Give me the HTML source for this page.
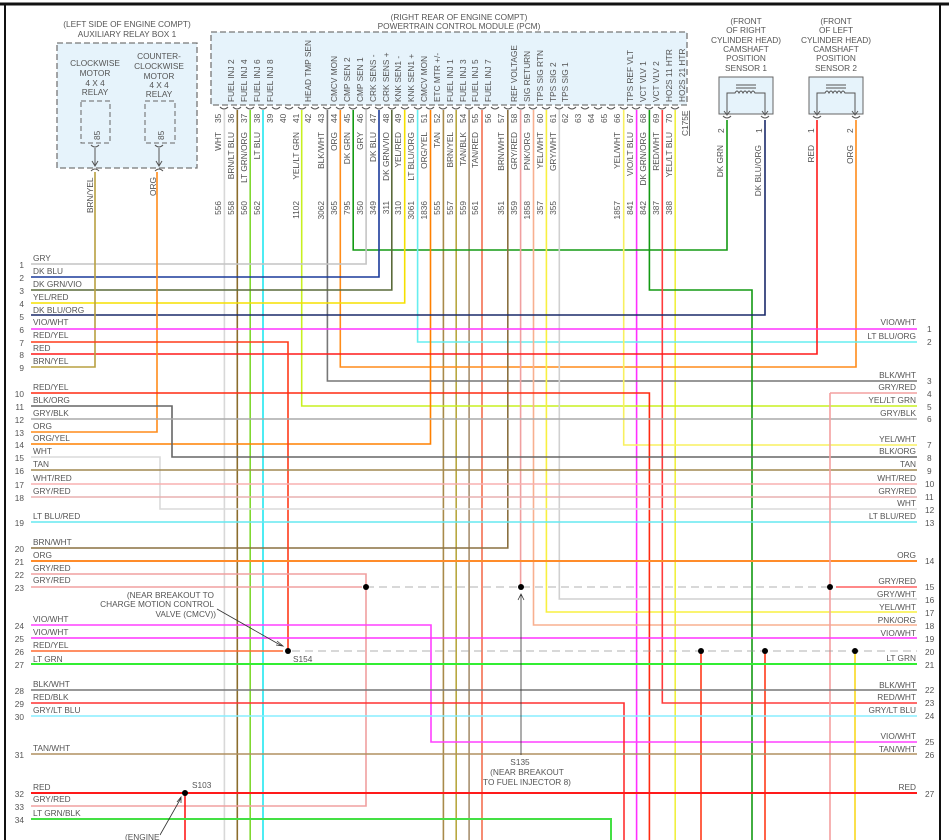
<!DOCTYPE html>
<html><head><meta charset="utf-8"><style>
html,body{margin:0;padding:0;background:#fff}
svg{display:block}
text{font-family:"Liberation Sans",sans-serif;font-size:8.3px;fill:#555}
.c{text-anchor:middle}.e{text-anchor:end}
</style></head><body>
<svg width="949" height="840" viewBox="0 0 949 840" xmlns="http://www.w3.org/2000/svg">
<rect x="0" y="0" width="949" height="840" fill="#fff"/>
<line x1="0" y1="4" x2="949" y2="4" stroke="#111" stroke-width="3"/>
<line x1="5" y1="4" x2="5" y2="840" stroke="#111" stroke-width="2"/>
<line x1="940" y1="4" x2="940" y2="840" stroke="#111" stroke-width="2"/>

<!-- Relay box -->
<text class="c" x="127" y="27">(LEFT SIDE OF ENGINE COMPT)</text>
<text class="c" x="127" y="37">AUXILIARY RELAY BOX 1</text>
<rect x="57" y="43" width="140" height="125" fill="#e6f3fb" stroke="#777" stroke-width="1.3" stroke-dasharray="6,3"/>
<text class="c" x="95" y="66">CLOCKWISE</text><text class="c" x="95" y="76">MOTOR</text><text class="c" x="95" y="86">4 X 4</text><text class="c" x="95" y="95">RELAY</text>
<text class="c" x="159" y="59">COUNTER-</text><text class="c" x="159" y="69">CLOCKWISE</text><text class="c" x="159" y="79">MOTOR</text><text class="c" x="159" y="88">4 X 4</text><text class="c" x="159" y="97">RELAY</text>
<rect x="81" y="101" width="29" height="42" fill="none" stroke="#666" stroke-dasharray="5,3"/>
<rect x="145" y="101" width="30" height="42" fill="none" stroke="#666" stroke-dasharray="5,3"/>
<text transform="translate(100,140) rotate(-90)">85</text>
<text transform="translate(164,140) rotate(-90)">85</text>
<path d="M95 148V165M92 161l3 5 3-5M159 148V165M156 161l3 5 3-5" stroke="#555" fill="none"/>
<path d="M91 145q4 4 8 0M155 145q4 4 8 0M91 171q4-4 8 0M155 171q4-4 8 0" stroke="#555" fill="none"/>
<text transform="translate(93,213) rotate(-90)">BRN/YEL</text>
<text transform="translate(156,196) rotate(-90)">ORG</text>

<!-- PCM -->
<text class="c" x="459" y="20">(RIGHT REAR OF ENGINE COMPT)</text>
<text class="c" x="459" y="29">POWERTRAIN CONTROL MODULE (PCM)</text>
<rect x="211" y="32" width="476" height="73" fill="#e6f3fb" stroke="#777" stroke-width="1.3" stroke-dasharray="6,3"/>
<g>
<text transform="translate(234,102) rotate(-90)">FUEL INJ 2</text>
<text transform="translate(247,102) rotate(-90)">FUEL INJ 4</text>
<text transform="translate(260,102) rotate(-90)">FUEL INJ 6</text>
<text transform="translate(273,102) rotate(-90)">FUEL INJ 8</text>
<text transform="translate(311,102) rotate(-90)">HEAD TMP SEN</text>
<text transform="translate(337,102) rotate(-90)">CMCV MON</text>
<text transform="translate(350,102) rotate(-90)">CMP SEN 2</text>
<text transform="translate(363,102) rotate(-90)">CMP SEN 1</text>
<text transform="translate(376,102) rotate(-90)">CRK SENS -</text>
<text transform="translate(389,102) rotate(-90)">CRK SENS +</text>
<text transform="translate(401,102) rotate(-90)">KNK SEN1 -</text>
<text transform="translate(414,102) rotate(-90)">KNK SEN1 +</text>
<text transform="translate(427,102) rotate(-90)">CMCV MON</text>
<text transform="translate(440,102) rotate(-90)">ETC MTR +/-</text>
<text transform="translate(453,102) rotate(-90)">FUEL INJ 1</text>
<text transform="translate(466,102) rotate(-90)">FUEL INJ 3</text>
<text transform="translate(478,102) rotate(-90)">FUEL INJ 5</text>
<text transform="translate(491,102) rotate(-90)">FUEL INJ 7</text>
<text transform="translate(517,102) rotate(-90)">REF VOLTAGE</text>
<text transform="translate(530,102) rotate(-90)">SIG RETURN</text>
<text transform="translate(543,102) rotate(-90)">TPS SIG RTN</text>
<text transform="translate(556,102) rotate(-90)">TPS SIG 2</text>
<text transform="translate(568,102) rotate(-90)">TPS SIG 1</text>
<text transform="translate(633,102) rotate(-90)">TPS REF VLT</text>
<text transform="translate(646,102) rotate(-90)">VCT VLV 1</text>
<text transform="translate(659,102) rotate(-90)">VCT VLV 2</text>
<text transform="translate(672,102) rotate(-90)">HO2S 11 HTR</text>
<text transform="translate(685,102) rotate(-90)">HO2S 21 HTR</text>
</g>
<!-- pin numbers -->
<g>
<text transform="translate(221,123) rotate(-90)">35</text><text transform="translate(234,123) rotate(-90)">36</text><text transform="translate(247,123) rotate(-90)">37</text><text transform="translate(260,123) rotate(-90)">38</text><text transform="translate(273,123) rotate(-90)">39</text><text transform="translate(286,123) rotate(-90)">40</text><text transform="translate(299,123) rotate(-90)">41</text><text transform="translate(311,123) rotate(-90)">42</text><text transform="translate(324,123) rotate(-90)">43</text><text transform="translate(337,123) rotate(-90)">44</text><text transform="translate(350,123) rotate(-90)">45</text><text transform="translate(363,123) rotate(-90)">46</text><text transform="translate(376,123) rotate(-90)">47</text><text transform="translate(389,123) rotate(-90)">48</text><text transform="translate(401,123) rotate(-90)">49</text><text transform="translate(414,123) rotate(-90)">50</text><text transform="translate(427,123) rotate(-90)">51</text><text transform="translate(440,123) rotate(-90)">52</text><text transform="translate(453,123) rotate(-90)">53</text><text transform="translate(466,123) rotate(-90)">54</text><text transform="translate(478,123) rotate(-90)">55</text><text transform="translate(491,123) rotate(-90)">56</text><text transform="translate(504,123) rotate(-90)">57</text><text transform="translate(517,123) rotate(-90)">58</text><text transform="translate(530,123) rotate(-90)">59</text><text transform="translate(543,123) rotate(-90)">60</text><text transform="translate(556,123) rotate(-90)">61</text><text transform="translate(568,123) rotate(-90)">62</text><text transform="translate(581,123) rotate(-90)">63</text><text transform="translate(594,123) rotate(-90)">64</text><text transform="translate(607,123) rotate(-90)">65</text><text transform="translate(620,123) rotate(-90)">66</text><text transform="translate(633,123) rotate(-90)">67</text><text transform="translate(646,123) rotate(-90)">68</text><text transform="translate(659,123) rotate(-90)">69</text><text transform="translate(672,123) rotate(-90)">70</text>
</g>
<text transform="translate(688,136) rotate(-90)" text-decoration="underline">C175E</text>
<!-- connector marks -->
<path d="M220 107q4 4 8 0M233 107q4 4 8 0M246 107q4 4 8 0M259 107q4 4 8 0M272 107q4 4 8 0M285 107q4 4 8 0M298 107q4 4 8 0M311 107q4 4 8 0M323 107q4 4 8 0M336 107q4 4 8 0M349 107q4 4 8 0M362 107q4 4 8 0M375 107q4 4 8 0M388 107q4 4 8 0M401 107q4 4 8 0M414 107q4 4 8 0M426 107q4 4 8 0M439 107q4 4 8 0M452 107q4 4 8 0M465 107q4 4 8 0M478 107q4 4 8 0M491 107q4 4 8 0M504 107q4 4 8 0M517 107q4 4 8 0M529 107q4 4 8 0M542 107q4 4 8 0M555 107q4 4 8 0M568 107q4 4 8 0M581 107q4 4 8 0M594 107q4 4 8 0M607 107q4 4 8 0M620 107q4 4 8 0M632 107q4 4 8 0M645 107q4 4 8 0M658 107q4 4 8 0M671 107q4 4 8 0" stroke="#555" fill="none"/>
<!-- wire color labels -->
<g>
<text class="e" transform="translate(221,132) rotate(-90)">WHT</text>
<text class="e" transform="translate(234,132) rotate(-90)">BRN/LT BLU</text>
<text class="e" transform="translate(247,132) rotate(-90)">LT GRN/ORG</text>
<text class="e" transform="translate(260,132) rotate(-90)">LT BLU</text>
<text class="e" transform="translate(299,132) rotate(-90)">YEL/LT GRN</text>
<text class="e" transform="translate(324,132) rotate(-90)">BLK/WHT</text>
<text class="e" transform="translate(337,132) rotate(-90)">ORG</text>
<text class="e" transform="translate(350,132) rotate(-90)">DK GRN</text>
<text class="e" transform="translate(363,132) rotate(-90)">GRY</text>
<text class="e" transform="translate(376,132) rotate(-90)">DK BLU</text>
<text class="e" transform="translate(389,132) rotate(-90)">DK GRN/VIO</text>
<text class="e" transform="translate(401,132) rotate(-90)">YEL/RED</text>
<text class="e" transform="translate(414,132) rotate(-90)">LT BLU/ORG</text>
<text class="e" transform="translate(427,132) rotate(-90)">ORG/YEL</text>
<text class="e" transform="translate(440,132) rotate(-90)">TAN</text>
<text class="e" transform="translate(453,132) rotate(-90)">BRN/YEL</text>
<text class="e" transform="translate(466,132) rotate(-90)">TAN/BLK</text>
<text class="e" transform="translate(478,132) rotate(-90)">TAN/RED</text>
<text class="e" transform="translate(504,132) rotate(-90)">BRN/WHT</text>
<text class="e" transform="translate(517,132) rotate(-90)">GRY/RED</text>
<text class="e" transform="translate(530,132) rotate(-90)">PNK/ORG</text>
<text class="e" transform="translate(543,132) rotate(-90)">YEL/WHT</text>
<text class="e" transform="translate(556,132) rotate(-90)">GRY/WHT</text>
<text class="e" transform="translate(620,132) rotate(-90)">YEL/WHT</text>
<text class="e" transform="translate(633,132) rotate(-90)">VIO/LT BLU</text>
<text class="e" transform="translate(646,132) rotate(-90)">DK GRN/ORG</text>
<text class="e" transform="translate(659,132) rotate(-90)">RED/WHT</text>
<text class="e" transform="translate(672,132) rotate(-90)">YEL/LT BLU</text>
</g>
<g>
<text class="e" transform="translate(221,201) rotate(-90)">556</text><text class="e" transform="translate(234,201) rotate(-90)">558</text><text class="e" transform="translate(247,201) rotate(-90)">560</text><text class="e" transform="translate(260,201) rotate(-90)">562</text><text class="e" transform="translate(299,201) rotate(-90)">1102</text><text class="e" transform="translate(324,201) rotate(-90)">3062</text><text class="e" transform="translate(337,201) rotate(-90)">365</text><text class="e" transform="translate(350,201) rotate(-90)">795</text><text class="e" transform="translate(363,201) rotate(-90)">350</text><text class="e" transform="translate(376,201) rotate(-90)">349</text><text class="e" transform="translate(389,201) rotate(-90)">311</text><text class="e" transform="translate(401,201) rotate(-90)">310</text><text class="e" transform="translate(414,201) rotate(-90)">3061</text><text class="e" transform="translate(427,201) rotate(-90)">1836</text><text class="e" transform="translate(440,201) rotate(-90)">555</text><text class="e" transform="translate(453,201) rotate(-90)">557</text><text class="e" transform="translate(466,201) rotate(-90)">559</text><text class="e" transform="translate(478,201) rotate(-90)">561</text><text class="e" transform="translate(504,201) rotate(-90)">351</text><text class="e" transform="translate(517,201) rotate(-90)">359</text><text class="e" transform="translate(530,201) rotate(-90)">1858</text><text class="e" transform="translate(543,201) rotate(-90)">357</text><text class="e" transform="translate(556,201) rotate(-90)">355</text><text class="e" transform="translate(620,201) rotate(-90)">1857</text><text class="e" transform="translate(633,201) rotate(-90)">841</text><text class="e" transform="translate(646,201) rotate(-90)">842</text><text class="e" transform="translate(659,201) rotate(-90)">387</text><text class="e" transform="translate(672,201) rotate(-90)">388</text>
</g>

<!-- Sensors -->
<g class="c">
<text class="c" x="746" y="24">(FRONT</text><text class="c" x="746" y="33">OF RIGHT</text><text class="c" x="746" y="43">CYLINDER HEAD)</text><text class="c" x="746" y="52">CAMSHAFT</text><text class="c" x="746" y="61">POSITION</text><text class="c" x="746" y="71">SENSOR 1</text>
<text class="c" x="836" y="24">(FRONT</text><text class="c" x="836" y="33">OF LEFT</text><text class="c" x="836" y="43">CYLINDER HEAD)</text><text class="c" x="836" y="52">CAMSHAFT</text><text class="c" x="836" y="61">POSITION</text><text class="c" x="836" y="71">SENSOR 2</text>
</g>
<rect x="719" y="77" width="54" height="37" fill="#e6f3fb" stroke="#666"/>
<rect x="809" y="77" width="54" height="37" fill="#e6f3fb" stroke="#666"/>
<path d="M736 85h20M736 88h20M727 115V93h8q2-4 4 0q2-4 4 0q2-4 4 0q2-4 4 0q2-4 4 0h10V115M724 111l3 4 3-4M762 111l3 4 3-4" stroke="#555" fill="none"/>
<path d="M826 85h20M826 88h20M817 115V93h8q2-4 4 0q2-4 4 0q2-4 4 0q2-4 4 0q2-4 4 0h10V115M814 111l3 4 3-4M852 111l3 4 3-4" stroke="#555" fill="none"/>
<path d="M723 116q4 4 8 0M761 116q4 4 8 0M813 116q4 4 8 0M852 116q4 4 8 0" stroke="#555" fill="none"/>
<text transform="translate(724,133) rotate(-90)">2</text><text transform="translate(762,133) rotate(-90)">1</text>
<text transform="translate(814,133) rotate(-90)">1</text><text transform="translate(853,133) rotate(-90)">2</text>
<text class="e" transform="translate(723,145) rotate(-90)">DK GRN</text>
<text class="e" transform="translate(761,145) rotate(-90)">DK BLU/ORG</text>
<text class="e" transform="translate(814,145) rotate(-90)">RED</text>
<text class="e" transform="translate(853,145) rotate(-90)">ORG</text>

<!-- WIRES -->
<g fill="none" stroke-width="1.6">
<!-- full verticals -->
<path d="M224.4 110V840" stroke="#d8d8d8"/>
<path d="M237.3 110V840" stroke="#8b6d2c"/>
<path d="M250.2 110V840" stroke="#80d830"/>
<path d="M263 110V840" stroke="#22e8f0"/>
<path d="M443.4 110V840" stroke="#a88a4a"/>
<path d="M456.2 110V840" stroke="#b8a840"/>
<path d="M469.1 110V840" stroke="#a89070"/>
<path d="M482 110V840" stroke="#f47050"/>
<path d="M636.6 110V840" stroke="#ff30ff"/>
<path d="M675.2 110V840" stroke="#f0f040"/>
<!-- PCM routes -->
<path d="M301.7 110V406H917" stroke="#c8f020"/>
<path d="M327.4 110V381H917" stroke="#777"/>
<path d="M340.3 110V367H856V120" stroke="#ff8c1a"/>
<path d="M353.2 110V250H727V120" stroke="#139a13"/>
<path d="M366.1 110V264H31" stroke="#c4c4c4"/>
<path d="M379 110V277H31" stroke="#1a3a9a"/>
<path d="M391.8 110V290H31" stroke="#5a6a3a"/>
<path d="M404.7 110V303H31" stroke="#f5e000"/>
<path d="M417.6 110V342H917" stroke="#66eef0"/>
<path d="M430.5 110V444H31" stroke="#ff8000"/>
<path d="M507.8 110V548H31" stroke="#8a7040"/>
<path d="M520.6 110V587" stroke="#f0a0a0"/>
<path d="M533.5 110V625H917" stroke="#f8b090"/>
<path d="M546.4 110V612H917" stroke="#f8f040"/>
<path d="M559.3 110V599H917" stroke="#d0d0d0"/>
<path d="M623.7 110V445H917" stroke="#f8f060"/>
<path d="M649.4 110V290H752V840" stroke="#139a13"/>
<path d="M662.3 110V703H917" stroke="#ff3b3b"/>
<path d="M765 120V315H31" stroke="#1a2a6a"/>
<path d="M817 120V354H31" stroke="#ff1a1a"/>
<path d="M95 172V367H31" stroke="#b8a040"/>
<path d="M157 172V432H31" stroke="#ff8c1a"/>
<!-- left rows -->
<path d="M31 329H917" stroke="#ff33ff"/>
<path d="M31 342H288V651" stroke="#ff3b1a"/>
<path d="M31 393H649.4V840" stroke="#ff2a10"/>
<path d="M31 406H172V457H917" stroke="#666"/>
<path d="M31 419H917" stroke="#aaa"/>
<path d="M31 457H160V509H917" stroke="#dadada"/>
<path d="M31 470H917" stroke="#a08850"/>
<path d="M31 484H917" stroke="#f8b0b0"/>
<path d="M31 497H917" stroke="#e8b0b0"/>
<path d="M31 522H917" stroke="#66e8f0"/>
<path d="M31 561H917" stroke="#ff8c2a" stroke-width="2"/>
<path d="M31 574H366V806H31" stroke="#f0a0a0"/>
<path d="M31 587H362" stroke="#f0a0a0"/>
<path d="M366 587H830" stroke="#999" stroke-width="0.8" stroke-dasharray="8,5"/>
<path d="M836 587H917" stroke="#ff6060"/>
<path d="M830 393H917M830 393V840" stroke="#f4a0a0"/>
<path d="M31 625H431V742H917" stroke="#ff40ff"/>
<path d="M31 638H917" stroke="#ff33ff"/>
<path d="M31 651H283" stroke="#ff6a30"/>
<path d="M292 651H917" stroke="#999" stroke-width="0.8" stroke-dasharray="8,5"/>
<path d="M701 651V840M765 651V840" stroke="#ff3b1a"/>
<path d="M855 651V840" stroke="#f8d820"/>
<path d="M31 664H917" stroke="#33ee33" stroke-width="2"/>
<path d="M31 690H917" stroke="#777"/>
<path d="M31 703H624V840" stroke="#ff3030"/>
<path d="M31 716H917" stroke="#88eeff"/>
<path d="M31 754H917" stroke="#b09060"/>
<path d="M31 793H917" stroke="#ff1a1a" stroke-width="2"/>
<path d="M185 793V840" stroke="#ff1a1a"/>
<path d="M31 819H611V840" stroke="#44e044" stroke-width="2"/>
</g>
<g fill="#000">
<circle cx="366" cy="587" r="3"/><circle cx="521" cy="587" r="3"/><circle cx="830" cy="587" r="3"/>
<circle cx="288" cy="651" r="3"/><circle cx="701" cy="651" r="3"/><circle cx="765" cy="651" r="3"/><circle cx="855" cy="651" r="3"/>
<circle cx="185" cy="793" r="3"/>
</g>
<path d="M521 755V595M518 600l3-6 3 6M217 609L282 646M277 641l6 5-7-1M160 835L181 798M177 802l4-5 0 6" stroke="#333" stroke-width="0.8" fill="none"/>
<text x="293" y="662">S154</text>
<text x="192" y="788">S103</text>
<text class="c" x="520" y="765">S135</text>
<text class="c" x="527" y="775">(NEAR BREAKOUT</text>
<text class="c" x="527" y="785">TO FUEL INJECTOR 8)</text>
<text class="e" x="214" y="598">(NEAR BREAKOUT TO</text>
<text class="e" x="214" y="607">CHARGE MOTION CONTROL</text>
<text class="e" x="216" y="617">VALVE (CMCV))</text>
<text x="125" y="840">(ENGINE</text>

<!-- left labels -->
<g>
<text x="33" y="261">GRY</text><text x="33" y="274">DK BLU</text><text x="33" y="287">DK GRN/VIO</text><text x="33" y="300">YEL/RED</text><text x="33" y="313">DK BLU/ORG</text><text x="33" y="325">VIO/WHT</text><text x="33" y="338">RED/YEL</text><text x="33" y="351">RED</text><text x="33" y="364">BRN/YEL</text>
<text x="33" y="390">RED/YEL</text><text x="33" y="403">BLK/ORG</text><text x="33" y="416">GRY/BLK</text><text x="33" y="429">ORG</text><text x="33" y="441">ORG/YEL</text><text x="33" y="454">WHT</text><text x="33" y="467">TAN</text><text x="33" y="481">WHT/RED</text><text x="33" y="494">GRY/RED</text><text x="33" y="519">LT BLU/RED</text>
<text x="33" y="545">BRN/WHT</text><text x="33" y="558">ORG</text><text x="33" y="571">GRY/RED</text><text x="33" y="583">GRY/RED</text><text x="33" y="622">VIO/WHT</text><text x="33" y="635">VIO/WHT</text><text x="33" y="648">RED/YEL</text><text x="33" y="662">LT GRN</text><text x="33" y="687">BLK/WHT</text><text x="33" y="700">RED/BLK</text><text x="33" y="713">GRY/LT BLU</text><text x="33" y="751">TAN/WHT</text><text x="33" y="790">RED</text><text x="33" y="802">GRY/RED</text><text x="33" y="816">LT GRN/BLK</text>
</g>
<g class="e">
<text class="e" x="24" y="268">1</text><text class="e" x="24" y="281">2</text><text class="e" x="24" y="294">3</text><text class="e" x="24" y="307">4</text><text class="e" x="24" y="320">5</text><text class="e" x="24" y="333">6</text><text class="e" x="24" y="346">7</text><text class="e" x="24" y="358">8</text><text class="e" x="24" y="371">9</text><text class="e" x="24" y="397">10</text><text class="e" x="24" y="410">11</text><text class="e" x="24" y="423">12</text><text class="e" x="24" y="436">13</text><text class="e" x="24" y="448">14</text><text class="e" x="24" y="461">15</text><text class="e" x="24" y="474">16</text><text class="e" x="24" y="488">17</text><text class="e" x="24" y="501">18</text><text class="e" x="24" y="526">19</text><text class="e" x="24" y="552">20</text><text class="e" x="24" y="565">21</text><text class="e" x="24" y="578">22</text><text class="e" x="24" y="591">23</text><text class="e" x="24" y="629">24</text><text class="e" x="24" y="642">25</text><text class="e" x="24" y="655">26</text><text class="e" x="24" y="668">27</text><text class="e" x="24" y="694">28</text><text class="e" x="24" y="707">29</text><text class="e" x="24" y="720">30</text><text class="e" x="24" y="758">31</text><text class="e" x="24" y="797">32</text><text class="e" x="24" y="810">33</text><text class="e" x="24" y="823">34</text>
</g>
<!-- right labels -->
<g>
<text class="e" x="916" y="325">VIO/WHT</text><text class="e" x="916" y="339">LT BLU/ORG</text><text class="e" x="916" y="378">BLK/WHT</text><text class="e" x="916" y="390">GRY/RED</text><text class="e" x="916" y="403">YEL/LT GRN</text><text class="e" x="916" y="416">GRY/BLK</text><text class="e" x="916" y="442">YEL/WHT</text><text class="e" x="916" y="454">BLK/ORG</text><text class="e" x="916" y="467">TAN</text><text class="e" x="916" y="481">WHT/RED</text><text class="e" x="916" y="494">GRY/RED</text><text class="e" x="916" y="506">WHT</text><text class="e" x="916" y="519">LT BLU/RED</text><text class="e" x="916" y="558">ORG</text><text class="e" x="916" y="584">GRY/RED</text><text class="e" x="916" y="597">GRY/WHT</text><text class="e" x="916" y="610">YEL/WHT</text><text class="e" x="916" y="623">PNK/ORG</text><text class="e" x="916" y="636">VIO/WHT</text><text class="e" x="916" y="661">LT GRN</text><text class="e" x="916" y="688">BLK/WHT</text><text class="e" x="916" y="700">RED/WHT</text><text class="e" x="916" y="713">GRY/LT BLU</text><text class="e" x="916" y="739">VIO/WHT</text><text class="e" x="916" y="752">TAN/WHT</text><text class="e" x="916" y="790">RED</text>
<text x="927" y="332">1</text><text x="927" y="345">2</text><text x="927" y="384">3</text><text x="927" y="397">4</text><text x="927" y="410">5</text><text x="927" y="422">6</text><text x="927" y="448">7</text><text x="927" y="461">8</text><text x="927" y="474">9</text><text x="925" y="487">10</text><text x="925" y="500">11</text><text x="925" y="513">12</text><text x="925" y="526">13</text><text x="925" y="564">14</text><text x="925" y="590">15</text><text x="925" y="603">16</text><text x="925" y="616">17</text><text x="925" y="629">18</text><text x="925" y="642">19</text><text x="925" y="655">20</text><text x="925" y="668">21</text><text x="925" y="693">22</text><text x="925" y="706">23</text><text x="925" y="719">24</text><text x="925" y="745">25</text><text x="925" y="758">26</text><text x="925" y="797">27</text>
</g>
</svg>
</body></html>
